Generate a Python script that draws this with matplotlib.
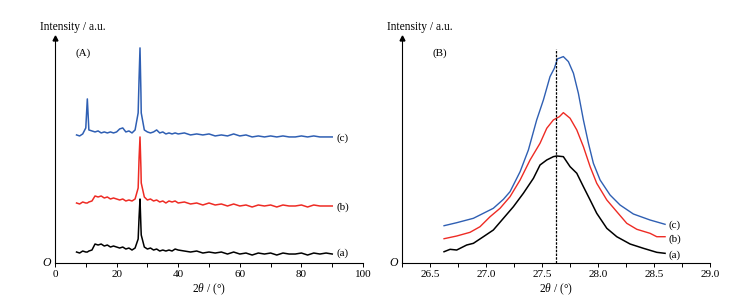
import numpy as np
import matplotlib
matplotlib.use('Agg')
import matplotlib.pyplot as plt

plt.rcParams['font.family'] = ['Liberation Serif', 'DejaVu Serif']
plt.rcParams['mathtext.fontset'] = 'custom'
plt.rcParams['mathtext.rm'] = 'Liberation Serif'
plt.rcParams['mathtext.it'] = 'Liberation Serif:italic'

# ---- panel A: full XRD patterns (offset, a.u.) ----
xa = [7, 8, 9, 10, 10.5, 11, 12, 13, 14, 15, 16, 17, 18, 19, 20, 21, 22, 23, 24, 25, 26,
      27, 27.3, 27.6, 27.9,
      28, 29, 30, 31, 32, 33, 34, 35, 36, 37, 38, 39, 40,
      42, 44, 46, 48, 50, 52, 54, 56, 58, 60, 62, 64, 66, 68, 70, 72, 74, 76, 78, 80,
      82, 84, 86, 88, 90]
ya_a = [11, 10, 12, 11, 11, 12, 13, 19, 18, 19, 17, 18, 16, 17, 16, 15, 16, 14, 15, 13, 15,
        24, 46, 64, 36,
        28, 16, 14, 15, 13, 14, 12, 13, 12, 13, 12, 14, 13,
        12, 11, 12, 10, 11, 10, 11, 9, 11, 9, 10, 8, 10, 9, 10, 8, 10, 9, 9, 10,
        8, 10, 9, 10, 9]
ya_b = [60, 59, 61, 60, 60, 61, 62, 67, 66, 67, 65, 66, 64, 65, 64, 63, 64, 62, 63, 62, 64,
        75, 105, 126, 95,
        80, 66, 63, 64, 62, 63, 61, 62, 60, 62, 61, 62, 60,
        61, 59, 60, 58, 60, 58, 59, 57, 59, 57, 58, 56, 58, 57, 58, 56, 58, 57, 57, 58,
        56, 58, 57, 57, 57]
ya_c = [128, 127, 129, 135, 164, 133, 132, 131, 132, 130, 131, 130, 131, 130, 131, 134, 135, 131, 132, 130, 133,
        150, 185, 215, 170,
        150, 133, 131, 130, 131, 133, 130, 131, 129, 130, 129, 130, 129,
        130, 128, 129, 128, 129, 127, 128, 127, 129, 127, 128, 126, 127, 126, 127, 126, 127, 126, 126, 127,
        126, 127, 126, 126, 126]

# ---- panel B: zoom on the main reflection ----
xb_a = [26.625, 26.679, 26.738, 26.827, 26.887, 26.976, 27.065, 27.155, 27.244, 27.333, 27.423,
        27.482, 27.542, 27.601, 27.631, 27.69, 27.75, 27.81, 27.869, 27.929, 27.988, 28.078,
        28.167, 28.286, 28.405, 28.524, 28.598]
yb_a = [11.3, 13.7, 13, 18, 19.7, 26.3, 33, 44.7, 56.3, 69.7, 84.7,
        98, 103, 106.3, 107, 106.3, 96.3, 89.7, 76.3, 63, 49.7, 34.7,
        26.3, 19, 14.7, 10.7, 9.7]
xb_b = [26.625, 26.738, 26.857, 26.946, 27.036, 27.125, 27.214, 27.304, 27.393, 27.482, 27.542,
        27.601, 27.655, 27.69, 27.75, 27.81, 27.869, 27.929, 27.988, 28.078, 28.167, 28.256,
        28.346, 28.464, 28.524, 28.598]
yb_b = [24.3, 27, 30.7, 36.3, 46.3, 54.7, 66.3, 83, 103, 119.7, 134.7,
        143, 146.3, 150.3, 144.7, 133, 116.3, 96.3, 79.7, 63, 51.3, 39.7,
        33.7, 29.7, 26.3, 26.3]
xb_c = [26.625, 26.738, 26.887, 26.976, 27.065, 27.155, 27.214, 27.304, 27.378, 27.452, 27.512,
        27.571, 27.61, 27.637, 27.69, 27.735, 27.78, 27.824, 27.869, 27.914, 27.958, 28.018,
        28.107, 28.196, 28.315, 28.464, 28.598]
yb_c = [37.3, 40.3, 44.7, 49.7, 54.7, 63.7, 71.3, 91.3, 113, 143, 163,
        186.3, 194.7, 204, 206.3, 201.3, 189.7, 169.7, 143, 119.7, 99.7, 83,
        68, 58, 49, 43, 38.7]
peak_pos = 27.62

blue = '#2f5fb3'
red = '#ee2b24'
black = '#000000'

fig = plt.figure(figsize=(7.37, 3.08), dpi=100)
axA = fig.add_axes([0.0746, 0.146, 0.418, 0.731])
axB = fig.add_axes([0.5455, 0.146, 0.418, 0.731])


def style_axis(ax):
    for s in ['top', 'right']:
        ax.spines[s].set_visible(False)
    ax.spines['left'].set_linewidth(0.8)
    ax.spines['bottom'].set_linewidth(0.8)
    ax.set_yticks([])
    ax.tick_params(axis='x', which='both', direction='out', length=3, width=0.7,
                   labelsize=8, pad=2)
    ax.plot(0, 1, '^', color='k', markersize=3.5, transform=ax.transAxes, clip_on=False)
    ax.text(-0.012, 0.0, 'O', transform=ax.transAxes, ha='right', va='center',
            fontsize=8.5, style='italic')
    ax.text(-0.05, 1.05, 'Intensity / a.u.', transform=ax.transAxes, ha='left',
            va='center', fontsize=8.3)
    ax.set_xlabel(r'2$\it{θ}$ / (°)', fontsize=8.3, labelpad=2)


# panel A
axA.plot(xa, ya_a, color=black, lw=1.1)
axA.plot(xa, ya_b, color=red, lw=1.1)
axA.plot(xa, ya_c, color=blue, lw=1.1)
axA.set_xlim(0, 100)
axA.set_ylim(0, 225)
axA.set_xticks(np.arange(0, 101, 20))
axA.set_xticks(np.arange(0, 101, 10), minor=True)
style_axis(axA)
axA.text(0.065, 0.93, '(A)', transform=axA.transAxes, fontsize=8, va='center')
for lab, yv in [('(a)', 10), ('(b)', 56), ('(c)', 125)]:
    axA.text(91.5, yv, lab, fontsize=8, va='center')

# panel B
axB.plot(xb_a, yb_a, color=black, lw=1.1)
axB.plot(xb_b, yb_b, color=red, lw=1.0)
axB.plot(xb_c, yb_c, color=blue, lw=1.0)
axB.plot([peak_pos, peak_pos], [0, 214], color='k', lw=0.9, ls=(0, (2, 1)))
axB.set_xlim(26.25, 29.0)
axB.set_ylim(0, 225)
axB.set_xticks(np.arange(26.5, 29.01, 0.5))
axB.set_xticks(np.arange(26.25, 29.01, 0.25), minor=True)
axB.set_xticklabels(['%.1f' % v for v in np.arange(26.5, 29.01, 0.5)])
style_axis(axB)
axB.text(0.1, 0.93, '(B)', transform=axB.transAxes, fontsize=8, va='center')
for lab, yv in [('(a)', 8), ('(b)', 24), ('(c)', 38)]:
    axB.text(28.63, yv, lab, fontsize=8, va='center')

fig.savefig('out.png', dpi=100)
